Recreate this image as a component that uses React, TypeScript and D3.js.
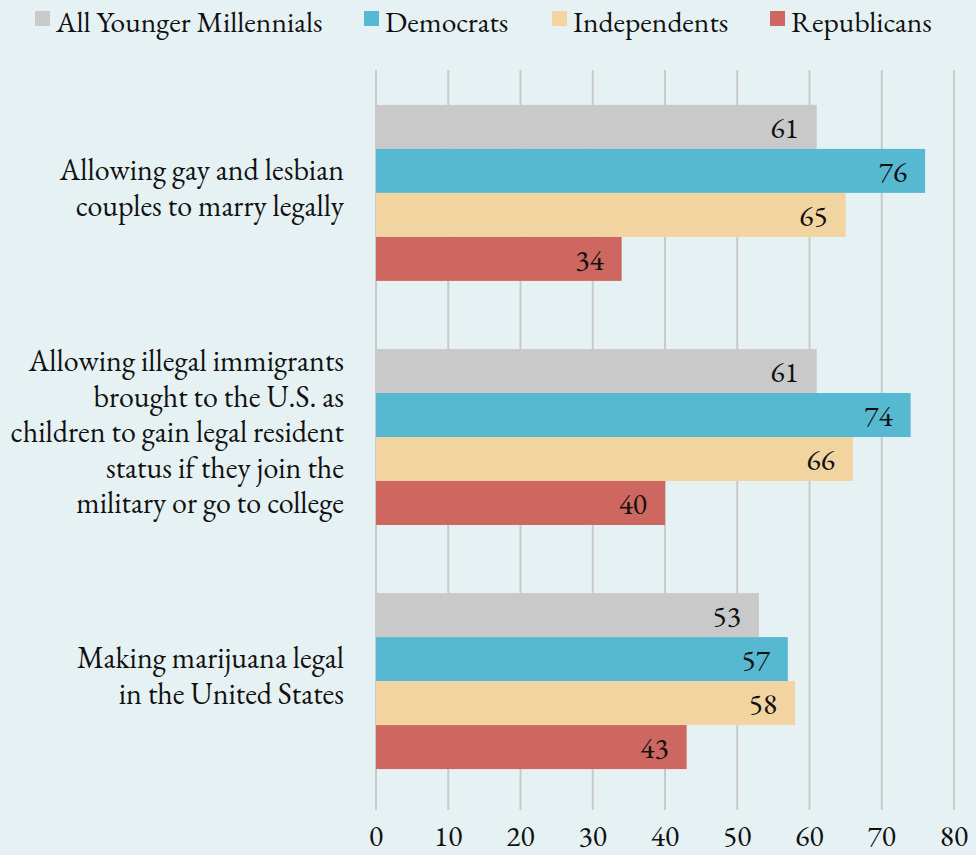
import React from "react";
import * as d3 from "d3";

const seriesNames = ["All Younger Millennials", "Democrats", "Independents", "Republicans"];
const seriesColors = ["#c9c9c9", "#57b9d1", "#f1d4a0", "#cd6760"];
const categories = [
  "Allowing gay and lesbian|couples to marry legally",
  "Allowing illegal immigrants|brought to the U.S. as|children to gain legal resident|status if they join the|military or go to college",
  "Making marijuana legal|in the United States",
];
const allYounger = [61, 61, 53];
const democrats = [76, 74, 57];
const independents = [65, 66, 58];
const republicans = [34, 40, 43];
const tickValues = [0, 10, 20, 30, 40, 50, 60, 70, 80];

const W = 976;
const H = 855;
const FONT = "'EB Garamond', 'Liberation Serif', 'Times New Roman', serif";
const FS = 29.5;

export default function App() {
  const values = [allYounger, democrats, independents, republicans];
  const x = d3.scaleLinear().domain([0, 80]).range([376, 954]);
  const y = d3
    .scaleBand<number>()
    .domain(d3.range(categories.length))
    .range([70, 804])
    .paddingInner(0.279)
    .paddingOuter(0.143);
  const inner = d3
    .scaleBand<number>()
    .domain(d3.range(seriesNames.length))
    .range([0, y.bandwidth()]);

  const legendX = [35, 364, 552, 770];

  return (
    <svg
      width={W}
      height={H}
      style={{ position: "absolute", left: 0, top: 0, display: "block" }}
      fontFamily={FONT}
    >
      <rect x={0} y={0} width={W} height={H} fill="#e6f1f3" />
      {/* legend */}
      {seriesNames.map((s, i) => (
        <g key={s}>
          <rect x={legendX[i]} y={11} width={15} height={15} fill={seriesColors[i]} />
          <text x={legendX[i] + 21} y={32} fontSize={FS} fill="#111">
            {s}
          </text>
        </g>
      ))}
      {/* gridlines */}
      {tickValues.map((t) => (
        <line
          key={t}
          x1={x(t)}
          x2={x(t)}
          y1={70}
          y2={810}
          stroke="#c9c9c9"
          strokeWidth={2}
        />
      ))}
      {/* bars */}
      {categories.map((c, ci) => (
        <g key={ci} transform={`translate(0,${y(ci)})`}>
          {values.map((vals, si) => (
            <g key={si}>
              <rect
                x={x(0)}
                y={inner(si)}
                width={x(vals[ci]) - x(0)}
                height={inner.bandwidth()}
                fill={seriesColors[si]}
              />
              <text
                x={x(vals[ci]) - 18}
                y={(inner(si) as number) + inner.bandwidth() / 2 + 11}
                textAnchor="end"
                fontSize={FS}
                fill="#111"
              >
                {vals[ci]}
              </text>
            </g>
          ))}
        </g>
      ))}
      {/* category labels */}
      {categories.map((c, ci) => {
        const lines = c.split("|");
        const lh = 35.5;
        const cy = (y(ci) as number) + y.bandwidth() / 2;
        const startY = cy - ((lines.length - 1) * lh) / 2 + 5;
        return (
          <text key={ci} textAnchor="end" fontSize={30} fill="#111">
            {lines.map((l, li) => (
              <tspan key={li} x={344} y={startY + li * lh}>
                {l}
              </tspan>
            ))}
          </text>
        );
      })}
      {/* x ticks */}
      {tickValues.map((t) => (
        <text key={t} x={x(t)} y={846} textAnchor="middle" fontSize={FS} fill="#111">
          {t}
        </text>
      ))}
    </svg>
  );
}
